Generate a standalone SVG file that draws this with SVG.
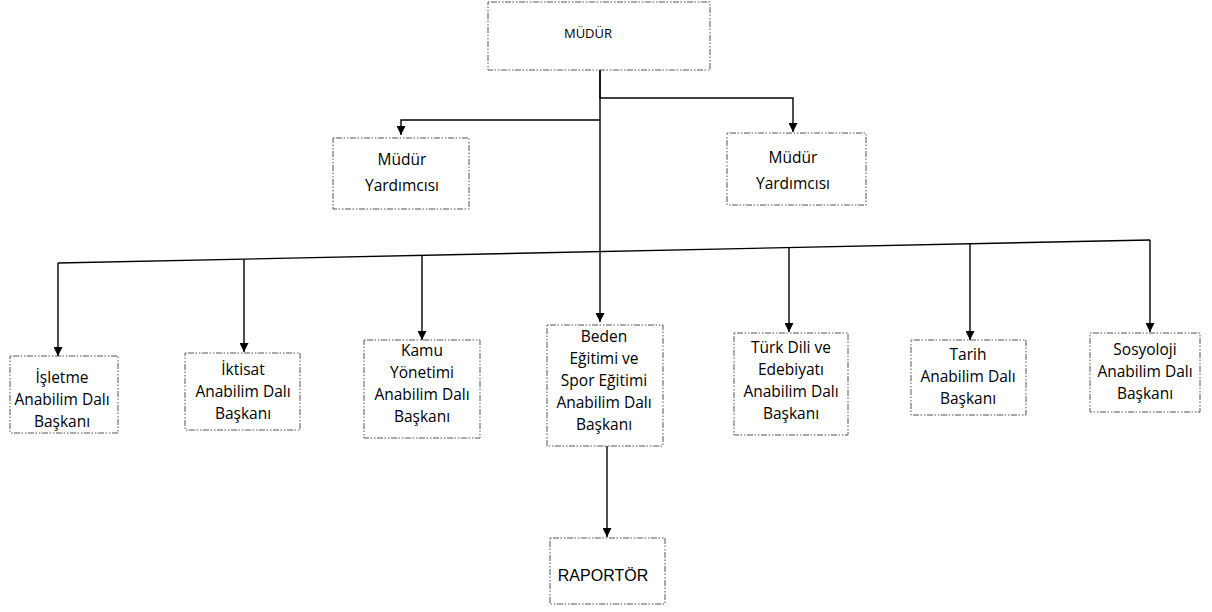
<svg xmlns="http://www.w3.org/2000/svg" width="1212" height="612" viewBox="0 0 1212 612">
<style>
.box{fill:none;stroke:#555;stroke-width:1;stroke-dasharray:1.5 1.5 6 1.5 1.5 2}
.t{font-family:"Open Sans","Liberation Sans",sans-serif;font-size:15.5px;fill:#000;text-anchor:middle}
.c{fill:none;stroke:#000;stroke-width:1.4}
</style>
<defs>
<marker id="ah" viewBox="0 0 10 10" refX="10" refY="5" markerWidth="9" markerHeight="9" markerUnits="userSpaceOnUse" orient="auto">
<path d="M0,0 L10,5 L0,10 z" fill="#000"/>
</marker>
</defs>
<rect width="1212" height="612" fill="#fff"/>
<g id="connectors">
<path class="c" d="M600,70 L600,98 L793,98 L793,132" marker-end="url(#ah)"/>
<path class="c" d="M600,120 L401,120 L401,135" marker-end="url(#ah)"/>
<path class="c" d="M600,70 L600,322" marker-end="url(#ah)"/>
<path class="c" d="M58,263 L1150,240"/>
<path class="c" d="M58,263 L58,356" marker-end="url(#ah)"/>
<path class="c" d="M244,259 L244,352" marker-end="url(#ah)"/>
<path class="c" d="M422,256 L422,340" marker-end="url(#ah)"/>
<path class="c" d="M789,248 L789,332" marker-end="url(#ah)"/>
<path class="c" d="M970,244 L970,340" marker-end="url(#ah)"/>
<path class="c" d="M1150,240 L1150,332" marker-end="url(#ah)"/>
<path class="c" d="M607,446 L607,537" marker-end="url(#ah)"/>
</g>
<g id="mudur">
<rect class="box" x="488" y="2" width="222" height="68"/>
<text class="t" x="588" y="38" style="font-size:13px">MÜDÜR</text>
</g>
<g id="yardimci1">
<rect class="box" x="333" y="138" width="136" height="71"/>
<text class="t" x="402" y="165">Müdür</text>
<text class="t" x="402" y="191">Yardımcısı</text>
</g>
<g id="yardimci2">
<rect class="box" x="727" y="133" width="139" height="72"/>
<text class="t" x="793" y="163">Müdür</text>
<text class="t" x="793" y="189">Yardımcısı</text>
</g>
<g id="isletme">
<rect class="box" x="10" y="356" width="108" height="77"/>
<text class="t" x="62" y="383">İşletme</text>
<text class="t" x="62" y="405">Anabilim Dalı</text>
<text class="t" x="62" y="427">Başkanı</text>
</g>
<g id="iktisat">
<rect class="box" x="185" y="353" width="115" height="77"/>
<text class="t" x="243" y="375">İktisat</text>
<text class="t" x="243" y="397">Anabilim Dalı</text>
<text class="t" x="243" y="419">Başkanı</text>
</g>
<g id="kamu">
<rect class="box" x="364" y="340" width="116" height="98"/>
<text class="t" x="422" y="356">Kamu</text>
<text class="t" x="422" y="378">Yönetimi</text>
<text class="t" x="422" y="400">Anabilim Dalı</text>
<text class="t" x="422" y="422">Başkanı</text>
</g>
<g id="beden">
<rect class="box" x="547" y="325" width="116" height="121"/>
<text class="t" x="604" y="342">Beden</text>
<text class="t" x="604" y="364">Eğitimi ve</text>
<text class="t" x="604" y="386">Spor Eğitimi</text>
<text class="t" x="604" y="408">Anabilim Dalı</text>
<text class="t" x="604" y="430">Başkanı</text>
</g>
<g id="turk">
<rect class="box" x="734" y="333" width="114" height="102"/>
<text class="t" x="791" y="353">Türk Dili ve</text>
<text class="t" x="791" y="375">Edebiyatı</text>
<text class="t" x="791" y="397">Anabilim Dalı</text>
<text class="t" x="791" y="419">Başkanı</text>
</g>
<g id="tarih">
<rect class="box" x="911" y="340" width="115" height="75"/>
<text class="t" x="968" y="360">Tarih</text>
<text class="t" x="968" y="382">Anabilim Dalı</text>
<text class="t" x="968" y="404">Başkanı</text>
</g>
<g id="sosyoloji">
<rect class="box" x="1090" y="333" width="110" height="79"/>
<text class="t" x="1145" y="355">Sosyoloji</text>
<text class="t" x="1145" y="377">Anabilim Dalı</text>
<text class="t" x="1145" y="399">Başkanı</text>
</g>
<g id="raportor">
<rect class="box" x="550" y="538" width="115" height="66"/>
<text class="t" x="603" y="581" style="font-family:'Liberation Sans',Arial,sans-serif;font-size:16px">RAPORTÖR</text>
</g>
</svg>
